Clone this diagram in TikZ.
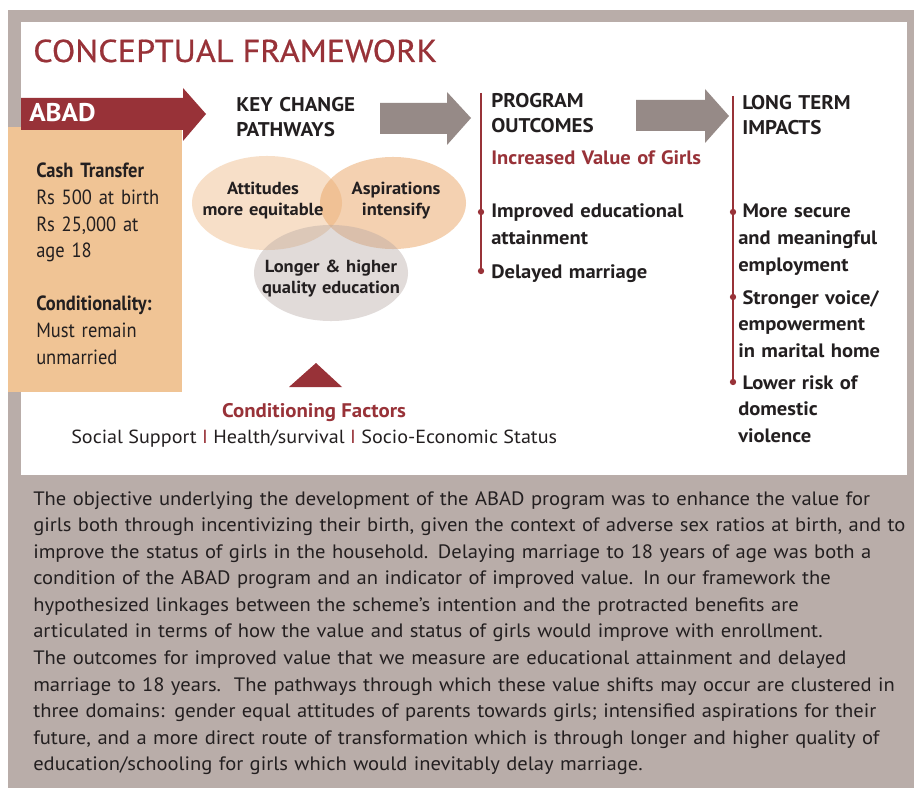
\documentclass[tikz,border=0pt]{standalone}
\usepackage{fontspec}
\setmainfont[FakeStretch=1.06]{PT Sans}
\newfontfamily\dinfont[FakeStretch=1.08,FakeBold=0.6]{PT Sans}
\newfontfamily\cashfont[FakeStretch=0.9]{PT Sans}
\usetikzlibrary{positioning,calc,shapes.geometric}
\definecolor{abadred}{RGB}{152,50,56}
\definecolor{framegray}{RGB}{185,173,169}
\definecolor{arrowgray}{RGB}{150,138,135}
\definecolor{cashorange}{RGB}{240,196,149}
\definecolor{inkdark}{RGB}{35,31,32}
\definecolor{vennorange}{RGB}{234,165,100}
\definecolor{venngray}{RGB}{180,166,162}

\begin{document}
\begin{tikzpicture}[x=0.025cm,y=-0.025cm,inner sep=0pt,text=inkdark,
    head/.style={anchor=base west,align=left,text width=4.5cm,font=\fontsize{14.1}{17.7}\selectfont\bfseries},
    bul/.style={anchor=base west,align=left,text width=6cm,font=\fontsize{13.8}{19.1}\selectfont\bfseries},
    cash/.style={anchor=base west,align=left,text width=4cm,font=\cashfont\fontsize{14.6}{18.9}\selectfont},
    venn/.style={anchor=base,align=center,text width=3.8cm,font=\fontsize{12.4}{15.2}\selectfont\bfseries},
    bubble/.style={ellipse,fill opacity=#1},
    dot/.style={circle,fill=abadred,minimum size=4.5pt},
    redline/.style={abadred,line width=1.1pt},
    blockarrow/.style={fill=arrowgray}]
    \useasboundingbox (0,0) rectangle (914,788);
    \fill[framegray] (8,10) rectangle (914,788);
    \fill[white] (21,22) rectangle (907,475);

    \node[anchor=base west,font=\dinfont\fontsize{22.5}{27}\selectfont,text=abadred] (title) at (33,62) {CONCEPTUAL FRAMEWORK};

    % ABAD box and arrow
    \fill[cashorange] (8,127) rectangle (182,392);
    \fill[abadred] (21,98) -- (183,98) -- (183,88) -- (206,114) -- (183,141) -- (183,130) -- (21,130) -- cycle;
    \node[anchor=base west,font=\fontsize{18.2}{20}\selectfont\bfseries,text=white] (abad) at (29,122) {ABAD};
    \node[cash] (cash) at (36,178) {\textbf{Cash Transfer}\\Rs 500 at birth\\Rs 25,000 at\\age 18\\[\baselineskip]\textbf{Conditionality:}\\Must remain\\unmarried};

    \fill[blockarrow] (380,103) -- (447,103) -- (447,92) -- (471,118) -- (447,145) -- (447,134) -- (380,134) -- cycle;
    \fill[blockarrow] (636,100) -- (705,100) -- (705,89) -- (729,116) -- (705,143) -- (705,131) -- (636,131) -- cycle;

    \node[head] (kcp) at (236,112) {KEY CHANGE\\PATHWAYS};
    \node[head] (prog) at (491,108) {PROGRAM\\OUTCOMES};
    \node[head] (lti) at (742,110) {LONG TERM\\IMPACTS};

    % venn
    \node[bubble=0.35,fill=vennorange,minimum width=3.75cm,minimum height=2.35cm] (att) at (267,203) {};
    \node[bubble=0.5,fill=vennorange,minimum width=3.65cm,minimum height=2.3cm] (asp) at (393,203) {};
    \node[bubble=0.4,fill=venngray,minimum width=3.85cm,minimum height=2.4cm] (lqe) at (331,273) {};
    \node[venn] (atttext) at (263,194) {Attitudes\\more equitable};
    \node[venn] (asptext) at (396,194) {Aspirations\\intensify};
    \node[venn] (lqetext) at (331,272) {Longer \& higher\\quality education};

    \fill[abadred] (289,387) -- (316,363) -- (342,387) -- cycle;
    \node[anchor=base,font=\fontsize{14}{17}\selectfont\bfseries,text=abadred] (cond) at (314,417) {Conditioning Factors};
    \node[anchor=base west,font=\fontsize{13.5}{17}\selectfont] (factors) at (71,443) {Social Support \textcolor{abadred}{I} Health/survival \textcolor{abadred}{I} Socio-Economic Status};

    % outcomes
    \node[bul,text=abadred] (incr) at (491,165) {Increased Value of Girls};
    \coordinate (progtop) at (481,93);
    \node[dot] (out1) at (481,212) {};
    \node[dot] (out2) at (481,271) {};
    \draw[redline] (progtop) -- (out1) -- (out2);
    \node[bul] (edu) at (491,218) {Improved educational\\attainment};
    \node[bul] (marr) at (491,278) {Delayed marriage};

    % impacts
    \coordinate (imptop) at (733,96);
    \node[dot] (imp1) at (733,212) {};
    \node[dot] (imp2) at (733,297) {};
    \node[dot] (imp3) at (733,382) {};
    \draw[redline] (imptop) -- (imp1) -- (imp2) -- (imp3);
    \node[bul,text width=4.3cm] (empl) at (738,218) {\hspace*{3pt}More secure\\and meaningful\\employment};
    \node[bul,text width=4.3cm] (voice) at (738,304) {\hspace*{3pt}Stronger voice/\\empowerment\\in marital home};
    \node[bul,text width=4.3cm] (viol) at (738,389) {\hspace*{3pt}Lower risk of\\domestic\\violence};

    \node[anchor=base west,align=left,text width=22cm,font=\fontsize{13.8}{18.9}\selectfont] (para) at (33,505) {The objective underlying the development of the ABAD program was to enhance the value for\\
girls both through incentivizing their birth, given the context of adverse sex ratios at birth, and to\\
improve the status of girls in the household. Delaying marriage to 18 years of age was both a\\
condition of the ABAD program and an indicator of improved value. In our framework the\\
hypothesized linkages between the scheme’s intention and the protracted benefits are\\
articulated in terms of how the value and status of girls would improve with enrollment.\\
The outcomes for improved value that we measure are educational attainment and delayed\\
marriage to 18 years.\ \ The pathways through which these value shifts may occur are clustered in\\
three domains: gender equal attitudes of parents towards girls; intensified aspirations for their\\
future, and a more direct route of transformation which is through longer and higher quality of\\
education/schooling for girls which would inevitably delay marriage.};
\end{tikzpicture}
\end{document}
